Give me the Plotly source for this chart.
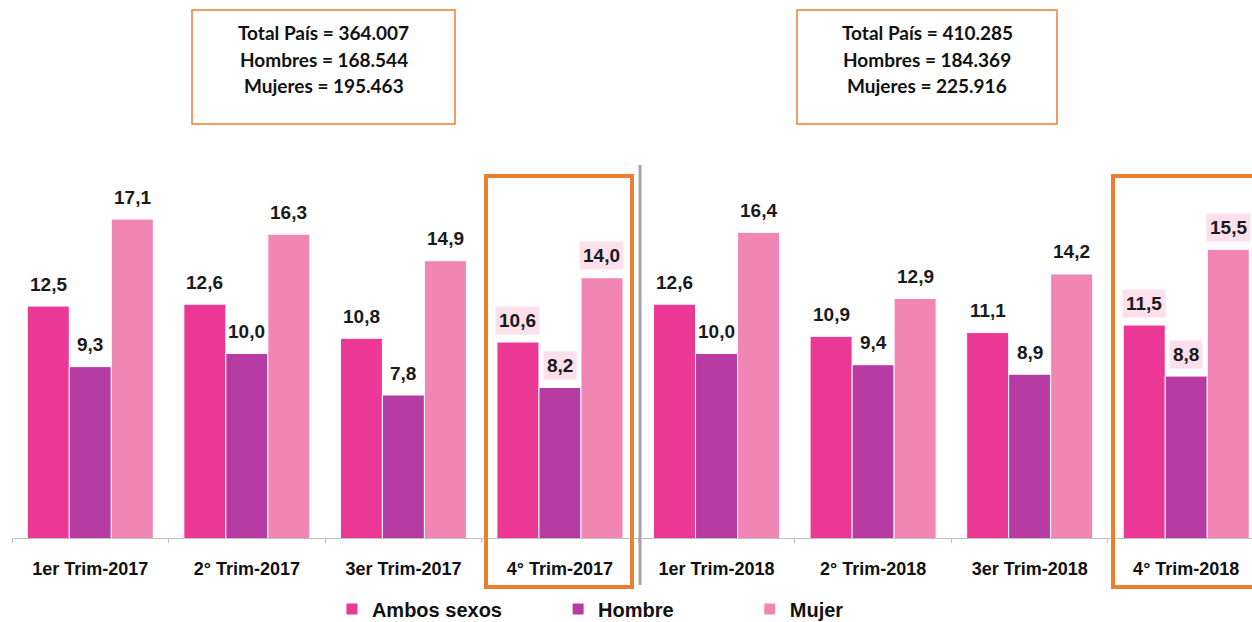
import plotly.graph_objects as go

categories = ["1er Trim-2017", "2° Trim-2017", "3er Trim-2017", "4° Trim-2017",
              "1er Trim-2018", "2° Trim-2018", "3er Trim-2018", "4° Trim-2018"]
ambos = [12.5, 12.6, 10.8, 10.6, 12.6, 10.9, 11.1, 11.5]
hombre = [9.3, 10.0, 7.8, 8.2, 10.0, 9.4, 8.9, 8.8]
mujer = [17.1, 16.3, 14.9, 14.0, 16.4, 12.9, 14.2, 15.5]
series_names = ["Ambos sexos", "Hombre", "Mujer"]
highlighted = ["4° Trim-2017", "4° Trim-2018"]
box_2017 = ["Total País = 364.007", "Hombres = 168.544", "Mujeres = 195.463"]
box_2018 = ["Total País = 410.285", "Hombres = 184.369", "Mujeres = 225.916"]

colors = ["#EC3895", "#B63BA3", "#F186B4"]
orange = "#ED7D31"
label_bg = "#FCE0EC"
sans = "Liberation Sans, Arial"

fig = go.Figure()
legend_ids = ["legend", "legend2", "legend3"]
for name, vals, col, lg in zip(series_names, [ambos, hombre, mujer], colors, legend_ids):
    fig.add_trace(go.Bar(x=categories, y=vals, name=name, legend=lg,
                         marker=dict(color=col, line=dict(color="white", width=1))))

# data labels
offsets = [-42, 0, 42]
for vals, dx in zip([ambos, hombre, mujer], offsets):
    for c, v in zip(categories, vals):
        hl = c in highlighted
        fig.add_annotation(x=c, y=v, xref="x", yref="y", xshift=dx, yshift=22,
                           text=f"{v:.1f}".replace(".", ","), showarrow=False,
                           font=dict(family=sans, size=19, color="#1a1a1a", weight="bold"),
                           bgcolor=label_bg if hl else "rgba(0,0,0,0)", borderpad=3,
                           yanchor="middle")

# top boxes
def add_box(lines, x0, x1):
    fig.add_shape(type="rect", xref="paper", yref="paper", x0=x0, x1=x1,
                  y0=1.0147, y1=1.294, line=dict(color=orange, width=1.5),
                  fillcolor="white", layer="above")
    xc = (x0 + x1) / 2
    for i, t in enumerate(lines):
        fig.add_annotation(x=xc, y=1.238 - i * 0.065, xref="paper", yref="paper",
                           xanchor="center", yanchor="middle",
                           text=t, showarrow=False,
                           font=dict(family="Lato, Open Sans", size=19, color="#111",
                                     weight="bold"))

add_box(box_2017, (192 - 12) / 1240, (455 - 12) / 1240)
add_box(box_2018, (797 - 12) / 1240, (1057 - 12) / 1240)

# highlight frames
for x0, x1 in [((486 - 12) / 1240, (632 - 12) / 1240), ((1113 - 12) / 1240, 1.03)]:
    fig.add_shape(type="rect", xref="paper", yref="paper", x0=x0, x1=x1,
                  y0=-0.12, y1=0.887, line=dict(color=orange, width=4), layer="above")

# divider
fig.add_shape(type="line", xref="paper", yref="paper", x0=0.5065, x1=0.5065,
              y0=-0.115, y1=0.914, line=dict(color="#A6A6A6", width=3))

leg_common = dict(orientation="h", xanchor="left", yref="container", y=1 - 609 / 622,
                  yanchor="middle",
                  font=dict(family=sans, size=20, color="#111", weight="bold"),
                  itemwidth=30, bgcolor="rgba(0,0,0,0)")
fig.update_layout(
    width=1252, height=622, barmode="group", bargap=0.195, bargroupgap=0.0,
    paper_bgcolor="white", plot_bgcolor="white",
    margin=dict(l=12, r=0, t=130, b=84),
    showlegend=True,
    legend=dict(x=0.258, **leg_common),
    legend2=dict(x=0.4404, **leg_common),
    legend3=dict(x=0.595, **leg_common),
    xaxis=dict(range=[-0.5, 7.42], showline=True, linecolor="#BFBFBF", linewidth=1,
               ticks="outside", ticklen=4, tickcolor="#BFBFBF", tickson="boundaries",
               ticklabelstandoff=14,
               tickfont=dict(family=sans, size=18, color="#111", weight="bold")),
    yaxis=dict(range=[0.24, 21.81], visible=False, showgrid=False),
)

fig.write_html("out.html", config={"displayModeBar": False},
               post_script="document.body.style.margin='0px';")
